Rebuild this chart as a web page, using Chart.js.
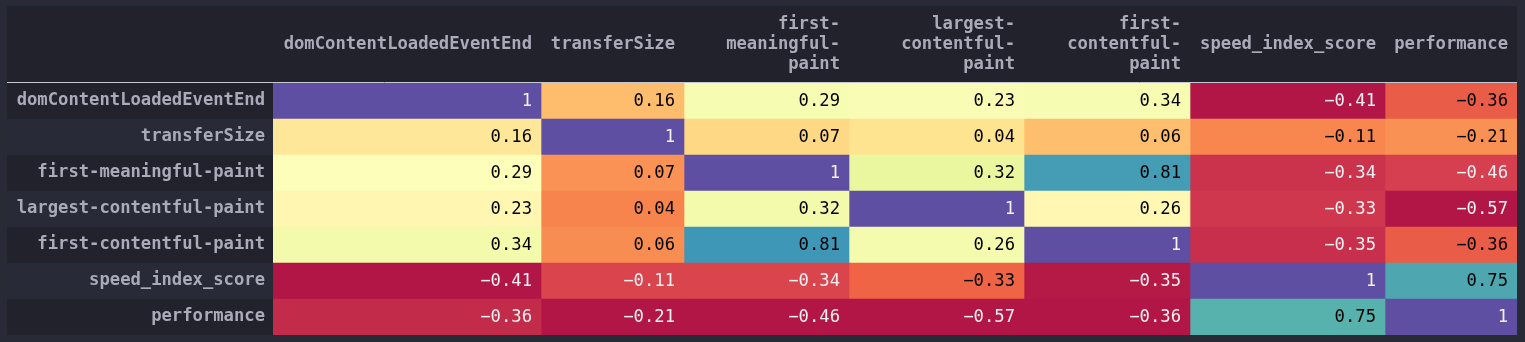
<!DOCTYPE html>
<html>
<head>
<meta charset="utf-8">
<script src="https://cdn.jsdelivr.net/npm/chart.js@4"></script>
<style>
  html, body { margin: 0; padding: 0; background: #282a36; }
  #grafico { display: block; }
</style>
</head>
<body>
<canvas id="grafico" width="1525" height="342"></canvas>
<script>
var metricas = ['domContentLoadedEventEnd', 'transferSize', 'first-meaningful-paint',
    'largest-contentful-paint', 'first-contentful-paint', 'speed_index_score', 'performance'];

var domContentLoadedEventEnd = [1, 0.16, 0.29, 0.23, 0.34, -0.41, -0.36];
var transferSize = [0.16, 1, 0.07, 0.04, 0.06, -0.11, -0.21];
var firstMeaningfulPaint = [0.29, 0.07, 1, 0.32, 0.81, -0.34, -0.46];
var largestContentfulPaint = [0.23, 0.04, 0.32, 1, 0.26, -0.33, -0.57];
var firstContentfulPaint = [0.34, 0.06, 0.81, 0.26, 1, -0.35, -0.36];
var speedIndexScore = [-0.41, -0.11, -0.34, -0.33, -0.35, 1, 0.75];
var performance = [-0.36, -0.21, -0.46, -0.57, -0.36, 0.75, 1];

// columns of the matrix (same order as metricas)
var colunas = [domContentLoadedEventEnd, transferSize, firstMeaningfulPaint,
    largestContentfulPaint, firstContentfulPaint, speedIndexScore, performance];

// layout: table column widths in px
var larguras = [268, 143, 165, 175, 166, 195, 132];

var FONTE = '"DejaVu Sans Mono", "Liberation Mono", monospace';
var COR_TEXTO = '#a9abb8';
var EXTENSAO_BAIXO = 0.035;   // like pandas background_gradient(low=...)

// matplotlib "Spectral"
var spectral = [
    [0.620, 0.004, 0.259], [0.835, 0.243, 0.310], [0.957, 0.427, 0.263],
    [0.992, 0.682, 0.380], [0.996, 0.878, 0.545], [1.000, 1.000, 0.749],
    [0.902, 0.961, 0.596], [0.671, 0.867, 0.643], [0.400, 0.761, 0.647],
    [0.196, 0.533, 0.741], [0.369, 0.310, 0.635]
];

function corSpectral(t) {
    t = Math.max(0, Math.min(1, t));
    var p = t * 10, i = Math.min(9, Math.floor(p)), f = p - i;
    var a = spectral[i], b = spectral[i + 1];
    return [0, 1, 2].map(function (k) { return a[k] + (b[k] - a[k]) * f; });
}

function luminancia(rgb) {
    var l = rgb.map(function (x) {
        return x <= 0.04045 ? x / 12.92 : Math.pow((x + 0.055) / 1.055, 2.4);
    });
    return 0.2126 * l[0] + 0.7152 * l[1] + 0.0722 * l[2];
}

function css(rgb) {
    return 'rgb(' + rgb.map(function (x) { return Math.round(x * 255); }).join(',') + ')';
}

function formatar(v) {
    if (v === 1) return '1';
    var s = Math.abs(v).toFixed(2);
    return v < 0 ? '\u2212' + s : s;
}

var inicio = [];
var acumulado = 0;
larguras.forEach(function (w) { inicio.push(acumulado); acumulado += w; });

var datasets = colunas.map(function (valores, j) {
    var min = Math.min.apply(null, valores), max = Math.max.apply(null, valores);
    var faixa = max - min;
    var rgbs = valores.map(function (v) {
        return corSpectral((v - min + EXTENSAO_BAIXO * faixa) / (faixa * (1 + EXTENSAO_BAIXO)));
    });
    return {
        label: metricas[j],
        data: valores.map(function () { return [inicio[j], inicio[j] + larguras[j]]; }),
        valores: valores,
        backgroundColor: rgbs.map(css),
        corTexto: rgbs.map(function (c) { return luminancia(c) < 0.24 ? '#f1f1f1' : '#000000'; }),
        borderWidth: 0,
        borderSkipped: false,
        barPercentage: 1,
        categoryPercentage: 1,
        grouped: false
    };
});

function quebrar(ctx, texto, max) {
    var partes = texto.match(/[^-]+-?/g);
    var linhas = [], atual = '';
    partes.forEach(function (p) {
        if (atual && ctx.measureText(atual + p).width > max) {
            linhas.push(atual);
            atual = p;
        } else {
            atual += p;
        }
    });
    linhas.push(atual);
    return linhas;
}

var tabela = {
    id: 'tabela',
    beforeDraw: function (chart) {
        var ctx = chart.ctx, area = chart.chartArea, y = chart.scales.y;
        var esquerda = 7, topo = 6;
        ctx.save();
        ctx.fillStyle = '#21222c';
        ctx.fillRect(esquerda, topo, area.right - esquerda, area.top - topo);
        var meio = (y.getPixelForValue(1) - y.getPixelForValue(0)) / 2;
        metricas.forEach(function (m, i) {
            var c = y.getPixelForValue(i);
            ctx.fillStyle = i % 2 === 0 ? '#21222c' : '#282a37';
            ctx.fillRect(esquerda, c - meio, area.left - esquerda, meio * 2);
        });
        ctx.strokeStyle = '#c6c8d2';
        ctx.lineWidth = 1;
        ctx.beginPath();
        ctx.moveTo(esquerda, area.top - 0.5);
        ctx.lineTo(area.right, area.top - 0.5);
        ctx.stroke();

        // column headers
        var x = chart.scales.x;
        ctx.font = 'bold 17.2px ' + FONTE;
        ctx.fillStyle = COR_TEXTO;
        ctx.textAlign = 'right';
        ctx.textBaseline = 'middle';
        var centro = (topo + area.top) / 2;
        metricas.forEach(function (m, j) {
            var direita = x.getPixelForValue(inicio[j] + larguras[j]) - 9;
            var linhas = quebrar(ctx, m, larguras[j] - 18);
            var y0 = centro - (linhas.length - 1) * 10;
            linhas.forEach(function (l, k) {
                ctx.fillText(l, direita, y0 + k * 20);
            });
        });
        ctx.restore();
    },
    afterDatasetsDraw: function (chart) {
        var ctx = chart.ctx;
        ctx.save();
        ctx.font = '17.2px ' + FONTE;
        ctx.textAlign = 'right';
        ctx.textBaseline = 'middle';
        chart.data.datasets.forEach(function (ds, j) {
            chart.getDatasetMeta(j).data.forEach(function (bar, i) {
                ctx.fillStyle = ds.corTexto[i];
                ctx.fillText(formatar(ds.valores[i]), Math.max(bar.x, bar.base) - 9, bar.y + 1);
            });
        });
        ctx.restore();
    }
};

var grafico = new Chart(document.getElementById('grafico').getContext('2d'), {
    type: 'bar',
    data: {
        labels: metricas,
        datasets: datasets
    },
    options: {
        responsive: false,
        animation: false,
        indexAxis: 'y',
        layout: { padding: { left: 7, top: 83, right: 8, bottom: 7 } },
        plugins: {
            legend: { display: false },
            tooltip: { enabled: false }
        },
        scales: {
            x: {
                type: 'linear',
                min: 0,
                max: acumulado,
                display: false
            },
            y: {
                type: 'category',
                offset: true,
                grid: { display: false, drawTicks: false },
                border: { display: false },
                ticks: {
                    color: COR_TEXTO,
                    font: { family: FONTE, size: 17.2, weight: 'bold' },
                    padding: 8
                },
                afterFit: function (escala) {
                    escala.width = 266;
                    escala.paddingTop = 0;
                    escala.paddingBottom = 0;
                }
            }
        }
    },
    plugins: [tabela]
});
</script>
</body>
</html>
